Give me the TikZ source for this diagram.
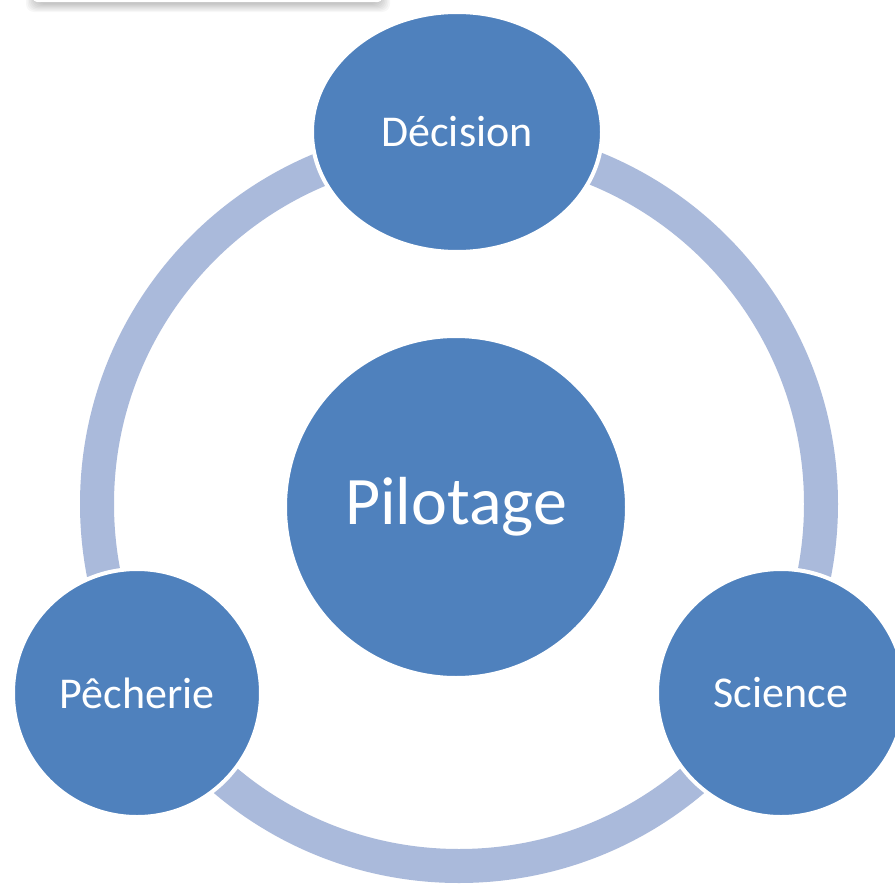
\documentclass[tikz,border=0pt]{standalone}
\usepackage{fontspec}
\setmainfont{Carlito}
\usetikzlibrary{shapes.geometric}
\definecolor{bubble}{RGB}{79,129,189}
\definecolor{ringcol}{RGB}{170,186,219}
\begin{document}
\begin{tikzpicture}[x=1pt,y=-1pt,
  bubblestyle/.style={circle, fill=bubble, draw=white, line width=4pt, inner sep=0pt, text=white,
     font=\fontsize{44}{50}\selectfont},
  ringstyle/.style={circle, draw=ringcol, line width=34pt, inner sep=0pt, minimum size=724pt}]
\useasboundingbox (0,0) rectangle (895,886);
\fill[white] (0,0) rectangle (895,886);
% soft shadow under a box cut off at the top left
\foreach \i in {0,...,7}{
  \fill[black, opacity=0.03, rounded corners=8pt] (26+\i*1.5, -20) rectangle (390-\i*1.5, 12-\i*1.2);
}
\fill[white, rounded corners=4pt] (33,-20) rectangle (382,2);
\node[ringstyle] (ring) at (459,504) {};
\node[bubblestyle, ellipse, minimum width=290pt, minimum height=240pt] (decision) at (457,132) {Décision};
\node[bubblestyle, minimum size=342pt, font=\fontsize{68}{76}\selectfont] (pilotage) at (456,507) {Pilotage};
\node[bubblestyle, minimum size=248pt] (pecherie) at (137,693) {Pêcherie};
\node[bubblestyle, minimum size=248pt] (science) at (781,693) {Science};
\end{tikzpicture}
\end{document}
